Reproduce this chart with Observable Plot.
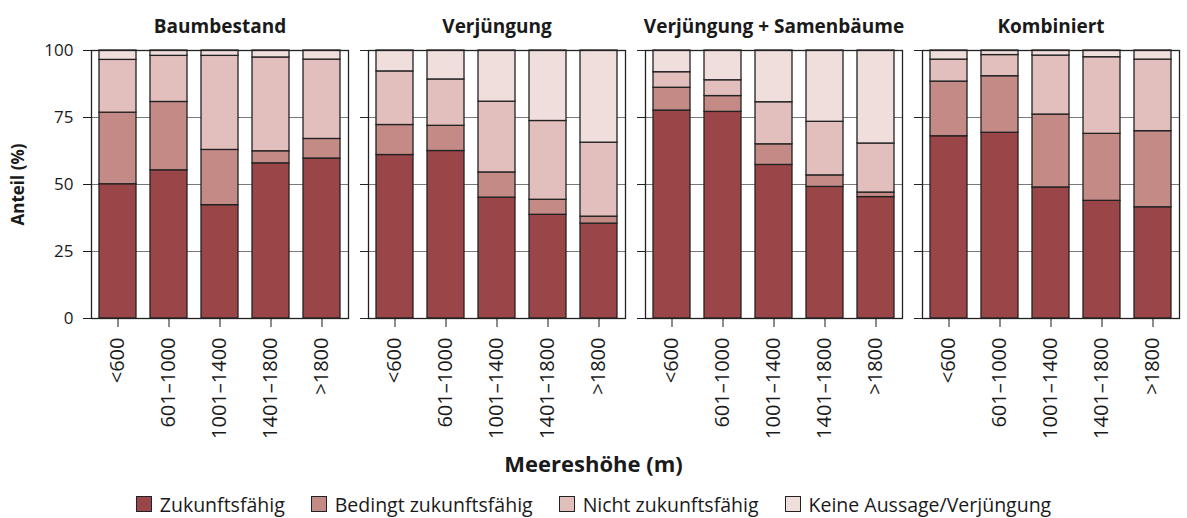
<!DOCTYPE html>
<html>
<head>
<meta charset="utf-8">
<script src="https://cdn.jsdelivr.net/npm/d3@7"></script>
<script src="https://cdn.jsdelivr.net/npm/@observablehq/plot@0.6"></script>
<style>
  html, body { margin: 0; padding: 0; background: #fff; }
  body { width: 1187px; font-family: "Open Sans", sans-serif; color: #1a1a1a; }
  #chart svg { display: block; }
  #xtitle { text-align: center; font-weight: bold; font-size: 22px; height: 34px; line-height: 34px; margin-top: 1px; }
  #legend { display: flex; justify-content: center; align-items: center; gap: 26px; font-size: 19.5px; height: 36px; margin-top: 6px; }
  #legend .item { display: flex; align-items: center; gap: 8px; }
  #legend .sw { width: 14px; height: 14px; border: 1.3px solid #222; }
</style>
</head>
<body>
<div id="chart"></div>
<div id="xtitle">Meereshöhe (m)</div>
<div id="legend"></div>
<script>
const panels = ["Baumbestand", "Verjüngung", "Verjüngung + Samenbäume", "Kombiniert"];
const elevations = ["<600", "601–1000", "1001–1400", "1401–1800", ">1800"];
const categories = ["Zukunftsfähig", "Bedingt zukunftsfähig", "Nicht zukunftsfähig", "Keine Aussage/Verjüngung"];
const colors = ["#9a4548", "#c38a86", "#e2bebd", "#f0dedd"];
const yTicks = [0, 25, 50, 75, 100];
const yLabel = "Anteil (%)";

// values (%) per panel, per elevation class
const zukunftsfaehig = [
  [50.1, 55.3, 42.3, 57.9, 59.7],
  [61.0, 62.5, 45.1, 38.7, 35.4],
  [77.6, 77.1, 57.3, 49.1, 45.3],
  [68.0, 69.3, 48.9, 43.9, 41.5]
];
const bedingtZukunftsfaehig = [
  [26.7, 25.5, 20.6, 4.5, 7.3],
  [11.2, 9.4, 9.4, 5.6, 2.6],
  [8.5, 5.9, 7.7, 4.3, 1.7],
  [20.4, 21.1, 27.2, 25.0, 28.4]
];
const nichtZukunftsfaehig = [
  [19.7, 17.2, 35.1, 35.0, 29.6],
  [20.0, 17.3, 26.4, 29.4, 27.6],
  [5.8, 5.9, 15.7, 20.0, 18.3],
  [8.2, 7.9, 22.0, 28.6, 26.7]
];
const keineAussage = [
  [3.5, 2.0, 2.0, 2.6, 3.4],
  [7.8, 10.8, 19.1, 26.3, 34.4],
  [8.1, 11.1, 19.3, 26.6, 34.7],
  [3.4, 1.7, 1.9, 2.5, 3.4]
];

const series = [zukunftsfaehig, bedingtZukunftsfaehig, nichtZukunftsfaehig, keineAussage];
const rows = [];
panels.forEach((p, pi) => elevations.forEach((e, ei) => categories.forEach((c, ci) => {
  rows.push({panel: p, elevation: e, category: c, value: series[ci][pi][ei]});
})));

const chart = Plot.plot({
  width: 1187,
  height: 445,
  marginLeft: 90,
  marginRight: 6,
  marginTop: 50,
  marginBottom: 127,
  style: {fontFamily: "Open Sans, sans-serif", fontSize: "16px", color: "#1a1a1a", background: "white"},
  fx: {domain: panels, paddingInner: 0.071, paddingOuter: 0},
  x: {domain: elevations, paddingInner: 0.284, paddingOuter: 0.147},
  y: {domain: [0, 100]},
  color: {domain: categories, range: colors},
  marks: [
    Plot.ruleY([25, 50, 75], {stroke: "#7a7a7a", strokeWidth: 1}),
    Plot.barY(rows, {fx: "panel", x: "elevation", y: "value", fill: "category", stroke: "#222", strokeWidth: 1.3}),
    Plot.frame({stroke: "#222", strokeWidth: 1.3}),
    Plot.axisY({ticks: yTicks, tickSize: 8, tickFormat: () => "", label: null, facetAnchor: null, stroke: "#222"}),
    Plot.axisY({ticks: yTicks, tickSize: 8, tickPadding: 10, fontSize: 17, label: yLabel, labelAnchor: "center", labelArrow: "none", labelOffset: 80}),
    Plot.axisX({tickRotate: -90, tickSize: 9, tickPadding: 10, fontSize: 20, label: null}),
    Plot.axisFx({anchor: "top", tickSize: 0, tickPadding: 18, fontSize: 19, fontWeight: "bold", label: null})
  ]
});
// style the y-axis title (bold, larger)
chart.querySelectorAll("text").forEach(t => {
  if (t.textContent.trim() === yLabel) {
    t.style.fontSize = "17px";
    t.style.fontWeight = "bold";
    if (t.parentNode && t.parentNode.tagName === "g") {
      t.parentNode.style.fontSize = "17px";
      t.parentNode.style.fontWeight = "bold";
    }
  }
});
document.getElementById("chart").appendChild(chart);

const legend = document.getElementById("legend");
categories.forEach((c, i) => {
  const item = document.createElement("div");
  item.className = "item";
  const sw = document.createElement("div");
  sw.className = "sw";
  sw.style.background = colors[i];
  const t = document.createElement("span");
  t.textContent = c;
  item.appendChild(sw);
  item.appendChild(t);
  legend.appendChild(item);
});
</script>
</body>
</html>
